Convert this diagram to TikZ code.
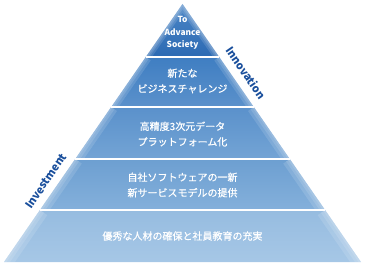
\documentclass[tikz,border=0pt]{standalone}
\usepackage{fontspec}
\newfontfamily\jp[FakeBold=0.6]{Noto Sans CJK JP}
\newfontfamily\jpb{Noto Sans CJK JP}
\begin{document}
\begin{tikzpicture}[x=1pt,y=-1pt,
  tlabel/.style={text=white,font=\jp\fontsize{10}{15.5}\selectfont,align=center,inner sep=0pt},
  toplabel/.style={text=white,font=\jpb\bfseries\fontsize{8.4}{12.5}\selectfont,align=center,inner sep=0pt},
  side/.style={text=sidecol,font=\jpb\bfseries\fontsize{11}{12}\selectfont,inner sep=0pt},
  sep/.style={white,line width=1.6pt},
  glow/.style={white,line width=#1,opacity=0.13}]
\definecolor{sidecol}{HTML}{1A4F9C}
\definecolor{tat}{HTML}{4C86C6}\definecolor{tab}{HTML}{2C6AB3}
\definecolor{tbt}{HTML}{3F7EC2}\definecolor{tbb}{HTML}{5B91CB}
\definecolor{tct}{HTML}{5A91CB}\definecolor{tcb}{HTML}{74A4D5}
\definecolor{tdt}{HTML}{6D9FD1}\definecolor{tdb}{HTML}{84B0DB}
\definecolor{tet}{HTML}{96BCE0}\definecolor{teb}{HTML}{A6C7E6}
\useasboundingbox (0,0) rectangle (366,267);
\coordinate (apex) at (182.5,4);
\coordinate (l1) at (145.8,57);  \coordinate (r1) at (219.2,57);
\coordinate (l2) at (111.2,107); \coordinate (r2) at (253.8,107);
\coordinate (l3) at (75.2,159);  \coordinate (r3) at (289.8,159);
\coordinate (l4) at (39.9,210);  \coordinate (r4) at (325.1,210);
\coordinate (l5) at (4,262);     \coordinate (r5) at (361,262);
% tier 1
\begin{scope}
\clip (apex) -- (r1) -- (l1) -- cycle;
\shade[top color=tat,bottom color=tab] (apex) -- (r1) -- (l1) -- cycle;
\foreach \w in {10,6,3}{\draw[glow=\w pt] (l1) -- (apex) -- (r1);}
\end{scope}
% tier 2
\begin{scope}
\clip (l1) -- (r1) -- (r2) -- (l2) -- cycle;
\shade[top color=tbt,bottom color=tbb] (l1) -- (r1) -- (r2) -- (l2) -- cycle;
\foreach \w in {12,7,3}{\draw[glow=\w pt] (l1) -- (l2) (r1) -- (r2);}
\end{scope}
% tier 3
\begin{scope}
\clip (l2) -- (r2) -- (r3) -- (l3) -- cycle;
\shade[top color=tct,bottom color=tcb] (l2) -- (r2) -- (r3) -- (l3) -- cycle;
\foreach \w in {14,8,3}{\draw[glow=\w pt] (l2) -- (l3) (r2) -- (r3);}
\end{scope}
% tier 4
\begin{scope}
\clip (l3) -- (r3) -- (r4) -- (l4) -- cycle;
\shade[top color=tdt,bottom color=tdb] (l3) -- (r3) -- (r4) -- (l4) -- cycle;
\foreach \w in {16,9,4}{\draw[glow=\w pt] (l3) -- (l4) (r3) -- (r4);}
\end{scope}
% tier 5
\begin{scope}
\clip (l4) -- (r4) -- (r5) -- (l5) -- cycle;
\shade[top color=tet,bottom color=teb] (l4) -- (r4) -- (r5) -- (l5) -- cycle;
\foreach \w in {18,10,4}{\draw[glow=\w pt] (l4) -- (l5) (r4) -- (r5);}
\end{scope}
\draw[sep] (l1) -- (r1);
\draw[sep] (l2) -- (r2);
\draw[sep] (l3) -- (r3);
\draw[sep] (l4) -- (r4);
\node[toplabel] (n1) at (182.5,33) {To\\Advance\\Society};
\node[tlabel] (n2) at (182.5,81) {新たな\\ビジネスチャレンジ};
\node[tlabel] (n3) at (182.5,134) {高精度3次元データ\\プラットフォーム化};
\node[tlabel] (n4) at (182.5,185) {自社ソフトウェアの一新\\新サービスモデルの提供};
\node[tlabel] (n5) at (182.5,236) {優秀な人材の確保と社員教育の充実};
\node[side,rotate=-55.3] (inn) at (246,73) {Innovation};
\node[side,rotate=55.3] (inv) at (46,181) {Investment};
\end{tikzpicture}
\end{document}
